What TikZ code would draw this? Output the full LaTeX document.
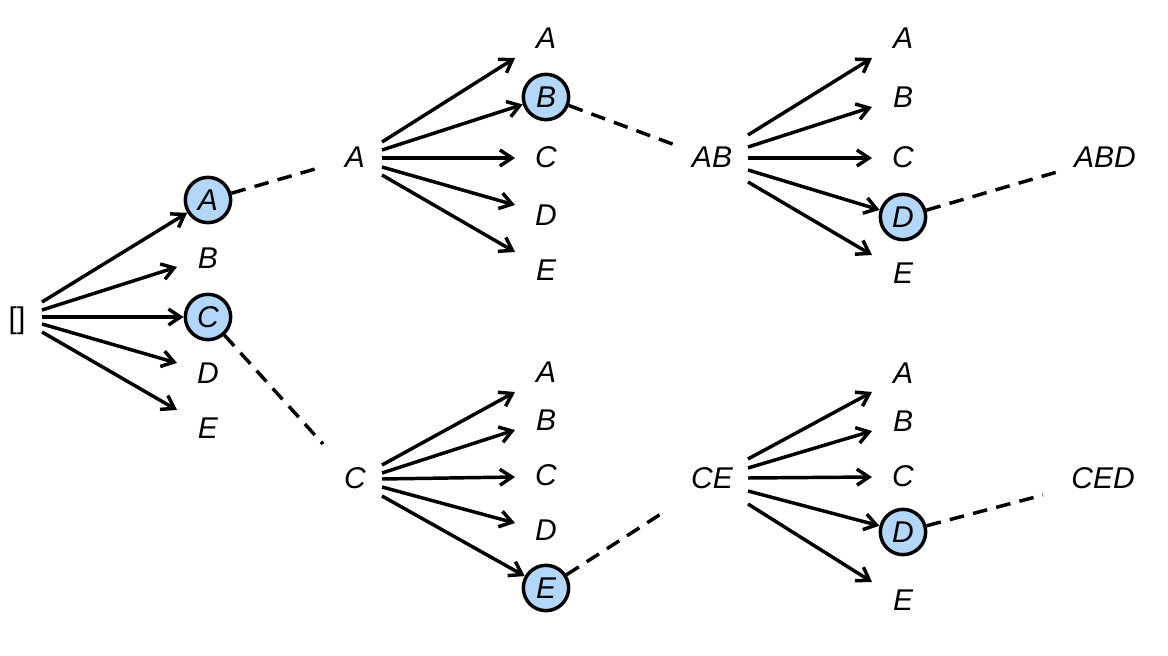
\documentclass[tikz,border=0pt]{standalone}
\usepackage{fontspec}
\setmainfont{Liberation Sans}
\usetikzlibrary{arrows.meta,calc}
\definecolor{nodefill}{HTML}{B3D7FB}
\begin{document}
\begin{tikzpicture}[x=0.75pt,y=-0.75pt,
 lbl/.style={inner sep=0pt, text height=16pt, text depth=0pt, font=\fontsize{22.5}{25}\selectfont\itshape},
 sel/.style={lbl, circle, draw, line width=2.6pt, fill=nodefill, minimum size=34pt},
 arr/.style={line width=2.6pt, -{Straight Barb[length=9pt,width=12pt]}},
 link/.style={line width=2.6pt, dash pattern=on 11pt off 7pt}
]
\useasboundingbox (0,0) rectangle (1168,656);

% root and level 1
\node[lbl, font=\fontsize{22.5}{25}\selectfont] (r) at (17,318) {[]};
\node[sel] (L1A) at (208,200) {A};
\node[lbl] (L1B) at (208,258) {B};
\node[sel] (L1C) at (208,317) {C};
\node[lbl] (L1D) at (208,373) {D};
\node[lbl] (L1E) at (208,428) {E};

% top branch
\node[lbl] (tA) at (355,157) {A};
\node[lbl] (T2A) at (546,38) {A};
\node[sel] (T2B) at (546,97) {B};
\node[lbl] (T2C) at (546,157) {C};
\node[lbl] (T2D) at (546,215) {D};
\node[lbl] (T2E) at (546,270) {E};
\node[lbl] (AB) at (712,157) {AB};
\node[lbl] (T3A) at (903,38) {A};
\node[lbl] (T3B) at (903,97) {B};
\node[lbl] (T3C) at (903,157) {C};
\node[sel] (T3D) at (903,217) {D};
\node[lbl] (T3E) at (903,273) {E};
\node[lbl] (ABD) at (1105,157) {ABD};

% bottom branch
\node[lbl] (bC) at (355,478) {C};
\node[lbl] (B2A) at (546,372) {A};
\node[lbl] (B2B) at (546,420) {B};
\node[lbl] (B2C) at (546,475) {C};
\node[lbl] (B2D) at (546,530) {D};
\node[sel] (B2E) at (546,588) {E};
\node[lbl] (CE) at (712,478) {CE};
\node[lbl] (B3A) at (903,373) {A};
\node[lbl] (B3B) at (903,421) {B};
\node[lbl] (B3C) at (903,476) {C};
\node[sel] (B3D) at (903,532) {D};
\node[lbl] (B3E) at (903,600) {E};
\node[lbl] (CED) at (1103,478) {CED};

% arrows from root
\draw[arr] ($(r)+(25,-16)$) -- (L1A);
\draw[arr] ($(r)+(25,-8)$) -- ($(L1B)+(-31,9)$);
\draw[arr] ($(r)+(25,-1)$) -- (L1C);
\draw[arr] ($(r)+(25,6)$) -- ($(L1D)+(-31,-10)$);
\draw[arr] ($(r)+(25,14)$) -- ($(L1E)+(-31,-18)$);

% arrows from A
\draw[arr] ($(tA)+(27,-15)$) -- ($(T2A)+(-31,20)$);
\draw[arr] ($(tA)+(27,-7)$) -- (T2B);
\draw[arr] ($(tA)+(27,1)$) -- ($(T2C)+(-31,1)$);
\draw[arr] ($(tA)+(27,10)$) -- ($(T2D)+(-31,-10)$);
\draw[arr] ($(tA)+(27,18)$) -- ($(T2E)+(-31,-18)$);

% arrows from AB
\draw[arr] ($(AB)+(36,-22)$) -- ($(T3A)+(-31,20)$);
\draw[arr] ($(AB)+(36,-10)$) -- ($(T3B)+(-31,10)$);
\draw[arr] ($(AB)+(36,1)$) -- ($(T3C)+(-31,1)$);
\draw[arr] ($(AB)+(36,13)$) -- (T3D);
\draw[arr] ($(AB)+(36,25)$) -- ($(T3E)+(-31,-18)$);

% arrows from C
\draw[arr] ($(bC)+(27,-13)$) -- ($(B2A)+(-31,20)$);
\draw[arr] ($(bC)+(27,-5)$) -- ($(B2B)+(-31,10)$);
\draw[arr] ($(bC)+(27,1)$) -- ($(B2C)+(-31,2)$);
\draw[arr] ($(bC)+(27,9)$) -- ($(B2D)+(-31,-7)$);
\draw[arr] ($(bC)+(27,18)$) -- (B2E);

% arrows from CE
\draw[arr] ($(CE)+(36,-19)$) -- ($(B3A)+(-31,19)$);
\draw[arr] ($(CE)+(36,-10)$) -- ($(B3B)+(-31,10)$);
\draw[arr] ($(CE)+(36,0)$) -- ($(B3C)+(-31,1)$);
\draw[arr] ($(CE)+(36,13)$) -- (B3D);
\draw[arr] ($(CE)+(36,26)$) -- ($(B3E)+(-31,-18)$);

% dashed links
\draw[link] (L1A) -- ($(tA)+(-33,10)$);
\draw[link] (L1C) -- ($(bC)+(-32,-34)$);
\draw[link] (T2B) -- ($(AB)+(-37,-12)$);
\draw[link] (B2E) -- ($(CE)+(-45,32)$);
\draw[link] (T3D) -- ($(ABD)+(-48,15)$);
\draw[link] (B3D) -- ($(CED)+(-60,17)$);
\end{tikzpicture}
\end{document}
